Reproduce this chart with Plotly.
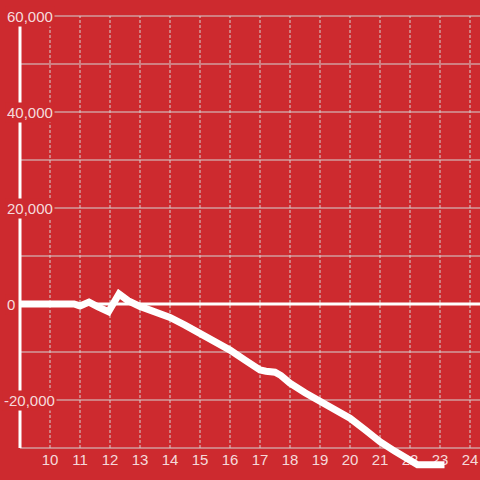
import plotly.graph_objects as go

# ---- data ----
x_vals = [9, 10.8, 11.0, 11.3, 11.6, 11.95, 12.3, 12.6, 13.0, 13.5, 14.0, 14.5, 15.0, 15.5,
          16.0, 16.5, 17.0, 17.2, 17.5, 17.7, 18.0, 18.5, 19.0, 19.5, 19.8, 20.0, 20.5,
          21.0, 21.5, 22.0, 22.25, 23.15]
y_vals = [0, 0, -400, 400, -600, -1600, 2100, 700, -500, -1600, -2800, -4400, -6100, -7800,
          -9600, -11700, -13750, -14000, -14200, -14900, -16500, -18500, -20200, -21900,
          -23000, -23800, -26200, -28700, -30700, -32500, -33500, -33500]
x_ticks = [10, 11, 12, 13, 14, 15, 16, 17, 18, 19, 20, 21, 22, 23, 24]
y_grid = [60000, 50000, 40000, 30000, 20000, 10000, 0, -10000, -20000, -30000]
y_ticks = [60000, 40000, 20000, 0, -20000]
y_tick_labels = ["60,000", "40,000", "20,000", "0", "-20,000"]

BG = "#CD2A2F"
GRID = "#d4d4d4"
TXT = "rgba(255,255,255,0.84)"
FONT = "Liberation Sans, Arial, sans-serif"

X0, X1 = 8.3333, 24.3333
Y0, Y1 = -36666.7, 63333.3
XMIN, YMIN, YMAX = 9, -30000, 60000

fig = go.Figure()

# x tick labels drawn as text so the line sits on top of them
fig.add_trace(go.Scatter(
    x=x_ticks, y=[-32700] * len(x_ticks), mode="text",
    text=[str(t) for t in x_ticks], textposition="middle center",
    textfont=dict(size=15, color=TXT, family=FONT), hoverinfo="skip", showlegend=False))

fig.add_trace(go.Scatter(
    x=x_vals, y=y_vals, mode="lines",
    line=dict(color="white", width=7), hoverinfo="skip", showlegend=False))

shapes = []
# vertical dotted grid
for t in x_ticks:
    shapes.append(dict(type="line", xref="x", yref="y", x0=t, x1=t, y0=YMIN, y1=YMAX,
                       line=dict(color=GRID, width=1, dash="3px,2px"), layer="below"))
# horizontal solid grid
for g in y_grid:
    if g == 0:
        continue
    shapes.append(dict(type="line", xref="x", yref="y", x0=XMIN, x1=X1, y0=g, y1=g,
                       line=dict(color=GRID, width=1), layer="below"))
# zero line
shapes.append(dict(type="line", xref="x", yref="y", x0=XMIN, x1=X1, y0=0, y1=0,
                   line=dict(color="white", width=3), layer="below"))
# y axis line
shapes.append(dict(type="line", xref="x", yref="y", x0=XMIN, x1=XMIN, y0=YMIN, y1=58300,
                   line=dict(color="white", width=3), layer="below"))

annotations = []
for v, lab in zip(y_ticks, y_tick_labels):
    annotations.append(dict(
        x=5 / 480, xref="paper", y=v, yref="y", text=lab, showarrow=False,
        xanchor="left", yanchor="middle", xshift=-3 if lab.startswith("-") else 0,
        bgcolor=BG, borderpad=1,
        font=dict(size=15, color=TXT, family=FONT)))

fig.update_layout(
    width=480, height=480,
    margin=dict(l=0, r=0, t=0, b=0),
    paper_bgcolor=BG, plot_bgcolor=BG,
    showlegend=False,
    shapes=shapes, annotations=annotations,
    xaxis=dict(range=[X0, X1], showgrid=False, zeroline=False, showline=False,
               showticklabels=False, ticks="", fixedrange=True),
    yaxis=dict(range=[Y0, Y1], showgrid=False, zeroline=False, showline=False,
               showticklabels=False, ticks="", fixedrange=True),
)

fig.write_html(
    "out.html",
    config={"displayModeBar": False},
    post_script="document.body.style.margin='0';document.body.style.padding='0';"
                "document.body.style.background='" + BG + "';",
)
